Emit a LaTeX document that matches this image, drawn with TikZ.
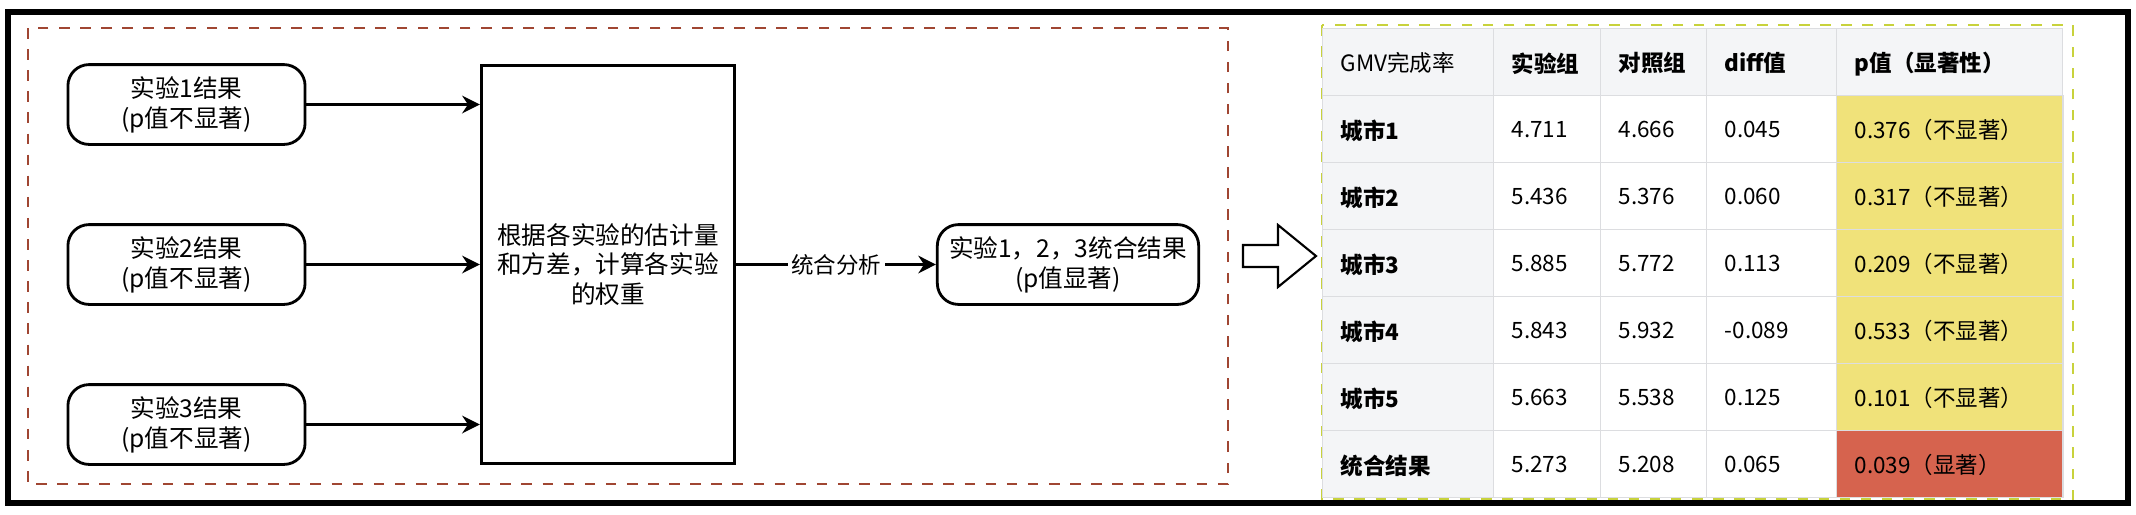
\documentclass[tikz,border=0pt]{standalone}
\usepackage{fontspec}
\setmainfont{Noto Sans CJK SC}
\usepackage{tikz}
\usetikzlibrary{positioning,calc,arrows.meta}
\definecolor{hdrgray}{HTML}{F4F5F7}
\definecolor{cellline}{HTML}{DCDDE0}
\definecolor{pyellow}{HTML}{F0E27A}
\definecolor{pred}{HTML}{D6634E}
\tikzset{expbox/.style={draw, thick, rounded corners=6, minimum width=2.37cm, minimum height=0.77cm, align=center, font=\fontsize{7}{8.5}\selectfont}}
\tikzset{arr/.style={draw, -{Stealth[length=5pt,width=5pt]}, thick}}
\tikzset{tcell/.style={draw=cellline, anchor=north west, inner sep=0pt, text depth=0pt, font=\fontsize{6.4}{7.5}\selectfont}}
\begin{document}
\begin{tikzpicture}[x=0.01cm, y=-0.01cm]
\useasboundingbox (0,0) rectangle (2136,514);
\draw[line width=1.6pt] (8,12) rectangle (2128,503);
\draw[dashed, draw={rgb,255:red,160;green,70;blue,50}] (28,28) rectangle (1228,484);
% experiments
\node[expbox] (E1) at (186.5,104.5) {实验1结果\\(p值不显著)};
\node[expbox] (E2) at (186.5,264.5) {实验2结果\\(p值不显著)};
\node[expbox] (E3) at (186.5,424.5) {实验3结果\\(p值不显著)};
\node[draw, thick, minimum width=2.4cm, minimum height=3.97cm, align=center, text width=2.3cm, font=\fontsize{7}{8.5}\selectfont] (W) at (608,264.5) {根据各实验的估计量\\和方差，计算各实验\\的权重};
\node[expbox, minimum width=2.4cm] (R) at (1068,264.5) {实验1，2，3统合结果\\(p值显著)};
\draw[arr] (E1.east) -- (E1.east -| W.west);
\draw[arr] (E2.east) -- (W.west);
\draw[arr] (E3.east) -- (E3.east -| W.west);
\draw[arr] (W.east) -- node[fill=white, inner sep=1pt, font=\fontsize{6.4}{7}\selectfont]{统合分析} (R.west);
% hollow arrow
\coordinate (H) at (1243,256);
\draw[semithick, line join=miter] (H) ++(0,-11) -- ++(35,0) -- ++(0,-20) -- ++(38,31) -- ++(-38,31) -- ++(0,-20) -- ++(-35,0) -- cycle;
% table
\draw[dashed, draw={rgb,255:red,200;green,210;blue,60}] (1322,25) rectangle (2073,499);
\foreach \cx/\cw/\fill/\txt [count=\i] in {1322/171/hdrgray/GMV完成率, 1493/107/hdrgray/\textbf{实验组}, 1600/106/hdrgray/\textbf{对照组}, 1706/130/hdrgray/\textbf{diff值}, 1836/226/hdrgray/\textbf{p值（显著性）}}
  \node[tcell, fill=\fill, minimum width=\cw*0.01cm, minimum height=0.67cm, text width=\cw*0.01cm-0.36cm] (h\i) at (\cx,28) {\hspace*{0pt}\txt};
\foreach \name/\a/\b/\c/\p/\pc [count=\r] in {城市1/4.711/4.666/0.045/0.376（不显著）/pyellow, 城市2/5.436/5.376/0.060/0.317（不显著）/pyellow, 城市3/5.885/5.772/0.113/0.209（不显著）/pyellow, 城市4/5.843/5.932/-0.089/0.533（不显著）/pyellow, 城市5/5.663/5.538/0.125/0.101（不显著）/pyellow, 统合结果/5.273/5.208/0.065/0.039（显著）/pred} {
  \pgfmathsetmacro{\ry}{28+67*\r}
  \node[tcell, fill=hdrgray, minimum width=1.71cm, minimum height=0.67cm, text width=1.35cm] (c\r a) at (1322,\ry) {\textbf{\name}};
  \node[tcell, fill=white, minimum width=1.07cm, minimum height=0.67cm, text width=0.71cm] (c\r b) at (1493,\ry) {\a};
  \node[tcell, fill=white, minimum width=1.06cm, minimum height=0.67cm, text width=0.70cm] (c\r c) at (1600,\ry) {\b};
  \node[tcell, fill=white, minimum width=1.30cm, minimum height=0.67cm, text width=0.94cm] (c\r d) at (1706,\ry) {\c};
  \node[tcell, fill=\pc, minimum width=2.26cm, minimum height=0.67cm, text width=1.90cm] (c\r e) at (1836,\ry) {\p};
}
\end{tikzpicture}
\end{document}
